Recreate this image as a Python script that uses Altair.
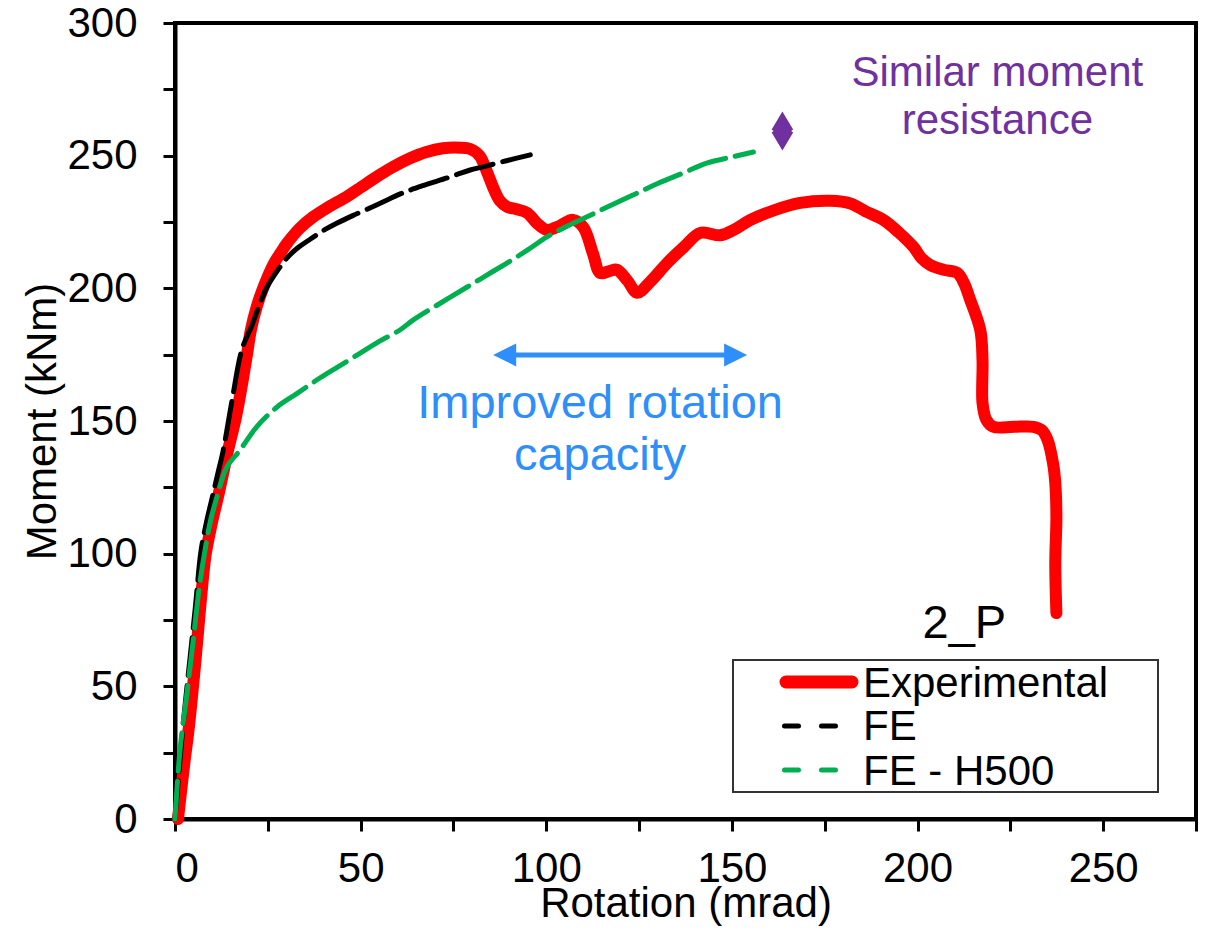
import altair as alt
import pandas as pd

# ---- measured moment-rotation curves (rotation in mrad, moment in kNm) ----
exp_rot = [0.8, 1.6, 2.6, 3.6, 4.5, 5.4, 6.3, 7.2, 8.3, 10.0, 12.0, 14.3, 16.5, 18.2, 19.5,
           20.4, 22.0, 24.0, 26.5, 28.5, 30.2, 33.5, 37.3, 41.5, 46.3, 50.3, 54.3, 58.8, 63.3,
           67.5, 72.2, 76.8, 79.5, 82.0, 84.0, 85.7, 87.5, 89.5, 92.0, 94.9, 97.5, 100.2, 103.5,
           107.2, 110.0, 112.6, 114.5, 117.0, 119.0, 121.8, 124.5, 128.0, 132.6, 137.0, 141.5,
           146.9, 150.5, 155.0, 161.5, 168.4, 176.5, 181.9, 186.0, 190.8, 195.0, 198.9, 201.0,
           203.4, 207.0, 210.7, 212.5, 214.2, 216.9, 217.5, 217.5, 218.5, 220.4, 226.0, 231.2,
           233.5, 235.0, 236.5, 237.1, 237.4, 237.1, 237.4]
exp_mom = [0.0, 10.0, 22.0, 33.0, 45.0, 58.0, 72.0, 86.0, 100.0, 112.0, 124.0, 139.0, 152.0,
           165.0, 176.0, 184.0, 193.0, 201.0, 209.0, 213.5, 217.0, 222.5, 227.0, 230.8, 234.6,
           238.3, 242.0, 245.8, 249.0, 251.3, 252.8, 253.0, 252.5, 250.0, 244.0, 238.0, 233.0,
           230.7, 229.8, 228.4, 224.5, 222.0, 223.5, 225.8, 223.0, 213.0, 205.8, 206.5, 207.0,
           203.0, 198.3, 202.5, 209.6, 215.5, 220.9, 220.0, 222.0, 225.8, 229.5, 232.2, 233.0,
           232.0, 229.0, 225.8, 221.0, 215.6, 211.5, 208.8, 207.0, 205.8, 202.0, 195.6, 184.3,
           173.0, 156.8, 150.5, 147.8, 147.8, 147.8, 146.5, 142.9, 134.0, 126.6, 113.8, 96.5,
           77.6]

fe_rot = [0.0, 1.2, 2.5, 4.0, 5.5, 7.0, 8.5, 10.0, 11.5, 13.0, 15.4, 18.0, 20.7, 22.8, 24.8,
          27.5, 30.2, 33.0, 36.4, 40.0, 43.7, 48.0, 52.5, 57.0, 61.4, 67.0, 73.3, 76.5, 79.5,
          83.0, 89.0, 95.7]
fe_mom = [0.0, 20.0, 40.0, 60.0, 80.0, 101.0, 112.0, 121.0, 130.0, 139.0, 158.0, 176.8, 186.0,
          194.0, 200.5, 206.5, 211.5, 215.2, 218.5, 221.8, 224.6, 227.5, 230.3, 233.2, 236.0,
          238.8, 241.6, 243.2, 244.6, 245.8, 248.0, 250.3]

h500_rot = [0.0, 1.35, 3.0, 4.6, 6.7, 8.1, 9.5, 11.3, 14.0, 17.5, 22.0, 27.5, 33.0, 39.0, 44.0,
            49.9, 55.0, 60.6, 64.1, 71.0, 78.7, 84.0, 89.5, 95.0, 100.2, 105.0, 111.0, 117.0,
            123.4, 130.0, 136.9, 143.4, 150.0, 155.8]
h500_mom = [0.0, 26.0, 45.0, 63.7, 89.0, 101.4, 112.0, 121.4, 132.7, 139.0, 147.8, 155.3, 160.5,
            166.2, 170.5, 175.6, 180.0, 184.3, 188.0, 194.0, 200.5, 205.0, 209.6, 214.5, 219.4,
            223.0, 227.0, 231.0, 235.2, 239.5, 243.5, 247.3, 249.5, 251.4]

series_names = ["Experimental", "FE", "FE - H500"]
series_colors = ["#FF0000", "#000000", "#00B050"]

x_ticks = [0, 25, 50, 75, 100, 125, 150, 175, 200, 225, 250, 275]
y_ticks = [0, 25, 50, 75, 100, 125, 150, 175, 200, 225, 250, 275, 300]

# annotation anchors (data coordinates)
arrow_left, arrow_right, arrow_level = 85.7, 154.1, 174.9
marker_rot, marker_mom = 163.6, 259.3

FONT = "Liberation Sans"
BLUE = "#2E8EFA"
PURPLE = "#7030A0"


def curve(rot, mom):
    return pd.DataFrame({"rot": rot, "mom": mom, "i": list(range(len(rot)))})


xs = alt.Scale(domain=[0, 275], nice=False)
ys = alt.Scale(domain=[0, 300], nice=False)

x_enc = alt.X(
    "rot:Q", scale=xs, title="Rotation (mrad)",
    axis=alt.Axis(values=x_ticks, labelExpr="datum.value % 50 === 0 ? datum.label : ''",
                  titleY=97, titleBaseline="alphabetic", labelPadding=17),
)
y_enc = alt.Y(
    "mom:Q", scale=ys, title="Moment (kNm)",
    axis=alt.Axis(values=y_ticks, labelExpr="datum.value % 50 === 0 ? datum.label : ''",
                  titleX=-120, titleY=398, titleBaseline="alphabetic", labelPadding=26),
)

exp_line = alt.Chart(curve(exp_rot, exp_mom)).mark_line(
    color=series_colors[0], strokeWidth=12, strokeCap="round", strokeJoin="round",
    interpolate="catmull-rom"
).encode(x=x_enc, y=y_enc, order="i:Q")

fe_line = alt.Chart(curve(fe_rot, fe_mom)).mark_line(
    color=series_colors[1], strokeWidth=5, strokeCap="round", strokeJoin="round",
    strokeDash=[38, 10], interpolate="catmull-rom"
).encode(x="rot:Q", y="mom:Q", order="i:Q")

h500_line = alt.Chart(curve(h500_rot, h500_mom)).mark_line(
    color=series_colors[2], strokeWidth=5, strokeCap="round", strokeJoin="round",
    strokeDash=[38, 10], interpolate="catmull-rom"
).encode(x="rot:Q", y="mom:Q", order="i:Q")

# double-headed arrow marking the gain in rotation capacity
arrow_df = pd.DataFrame({"a": [arrow_left + 3.1], "b": [arrow_right - 3.1], "m": [arrow_level]})
arrow_shaft = alt.Chart(arrow_df).mark_rule(color=BLUE, strokeWidth=5).encode(
    x="a:Q", x2="b:Q", y="m:Q")
head_l = alt.Chart(pd.DataFrame({"r": [arrow_left], "m": [arrow_level]})).mark_point(
    shape="M0,0 L2,-1 L2,1 Z", size=529, filled=True, color=BLUE, opacity=1
).encode(x="r:Q", y="m:Q")
head_r = alt.Chart(pd.DataFrame({"r": [arrow_right], "m": [arrow_level]})).mark_point(
    shape="M0,0 L-2,-1 L-2,1 Z", size=529, filled=True, color=BLUE, opacity=1
).encode(x="r:Q", y="m:Q")

marker = alt.Chart(pd.DataFrame({"r": [marker_rot], "m": [marker_mom]})).mark_point(
    shape="M0,-1 L0.55,-0.08 L0.45,0 L0.55,0.08 L0,1 L-0.55,0.08 L-0.45,0 L-0.55,-0.08 Z",
    size=1521, filled=True, color=PURPLE, opacity=1
).encode(x="r:Q", y="m:Q")


def note(text, r, m, size, color, line_height):
    df = pd.DataFrame({"r": [r], "m": [m], "t": [text]})
    return alt.Chart(df).mark_text(
        font=FONT, fontSize=size, color=color, align="center", baseline="alphabetic",
        lineBreak="\n", lineHeight=line_height
    ).encode(x="r:Q", y="m:Q", text="t:N")


note_rot = note("Improved rotation\ncapacity", 114.5, 151.1, 47, BLUE, 52)
note_res = note("Similar moment\nresistance", 221.5, 276.3, 42, PURPLE, 48)
note_id = note("2_P", 212.6, 68.2, 47, "#000000", 50)

# legend panel
legend_box = alt.Chart(pd.DataFrame({"k": [0]})).mark_rect(
    fill="white", stroke="#333333", strokeWidth=2
).encode(x=alt.value(558), x2=alt.value(983), y=alt.value(637), y2=alt.value(769))

leg_rows_y = [659, 703, 747]
leg_text_y = [674, 717, 762]
legend_layers = [legend_box]
legend_layers.append(
    alt.Chart(pd.DataFrame({"k": [0]})).mark_rule(
        color=series_colors[0], strokeWidth=13, strokeCap="round"
    ).encode(x=alt.value(611), x2=alt.value(677), y=alt.value(leg_rows_y[0]))
)
for idx in (1, 2):
    legend_layers.append(
        alt.Chart(pd.DataFrame({"k": [0]})).mark_rule(
            color=series_colors[idx], strokeWidth=5, strokeCap="round", strokeDash=[14, 23]
        ).encode(x=alt.value(609.5), x2=alt.value(661), y=alt.value(leg_rows_y[idx]))
    )
for idx, name in enumerate(series_names):
    legend_layers.append(
        alt.Chart(pd.DataFrame({"k": [0]})).mark_text(
            font=FONT, fontSize=42, color="black", align="left", baseline="alphabetic"
        ).encode(x=alt.value(688), y=alt.value(leg_text_y[idx]), text=alt.value(name))
    )

chart = alt.layer(
    exp_line, fe_line, h500_line, arrow_shaft, head_l, head_r, marker,
    note_rot, note_res, note_id, *legend_layers
).properties(
    width=1021, height=796,
    autosize=alt.AutoSizeParams(type="none"),
    padding={"left": 175, "top": 23, "right": 15, "bottom": 112},
).configure_view(
    stroke="black", strokeWidth=4
).configure_axis(
    grid=False, domainColor="black", domainWidth=4, tickColor="black", tickWidth=3,
    tickSize=12, labelFont=FONT, labelFontSize=42, labelColor="black",
    titleFont=FONT, titleFontSize=42, titleFontWeight="normal", titleColor="black",
)

chart.save("out.html", embed_options={"renderer": "svg", "actions": False})
